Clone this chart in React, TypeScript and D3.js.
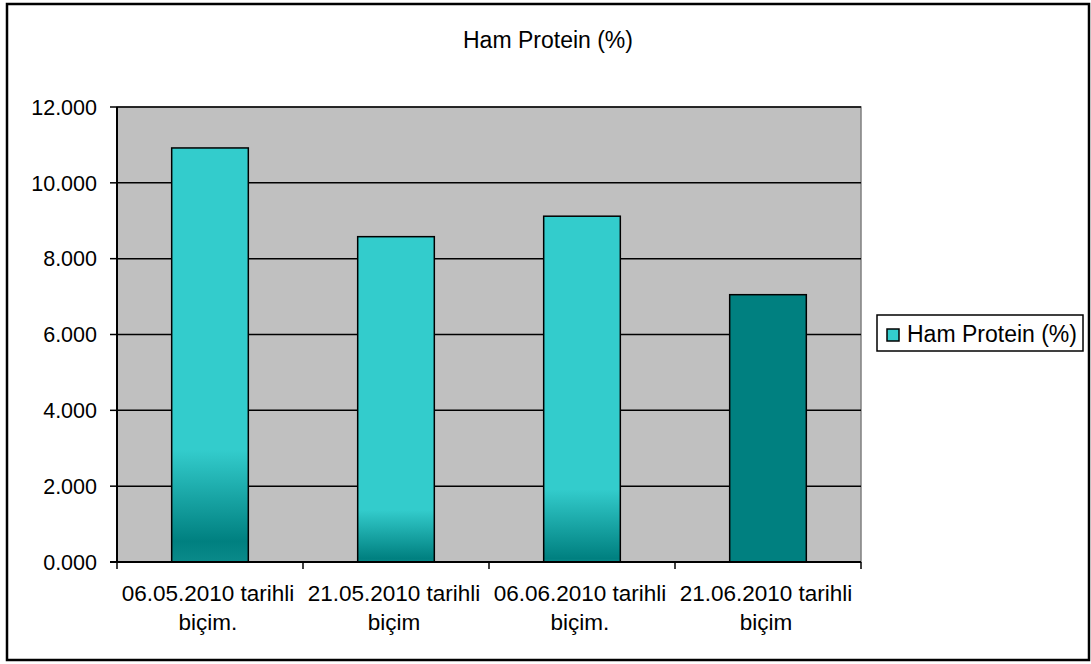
import React from "react";
import * as d3 from "d3";

const categories: string[][] = [
  ["06.05.2010 tarihli", "biçim."],
  ["21.05.2010 tarihli", "biçim"],
  ["06.06.2010 tarihli", "biçim."],
  ["21.06.2010 tarihli", "biçim"],
];
const values: number[] = [10.92, 8.58, 9.12, 7.05];
const yTicks: number[] = [0, 2, 4, 6, 8, 10, 12];
const seriesName = "Ham Protein (%)";
const titleText = "Ham Protein (%)";
// gradient start (fraction of bar height from top) per bar; null = solid
const gradStart: (number | null)[] = [0.73, 0.84, 0.79, null];
const gradDark: number[] = [0.95, 0.99, 0.99, 1];

const W = 1091;
const H = 664;
const plot = { left: 117, top: 107, right: 861, bottom: 562 };
const FONT = "'Liberation Sans', Arial, sans-serif";
const LIGHT = "#33CCCC";
const DARK = "#008080";

export default function App() {
  const x = d3
    .scaleBand<number>()
    .domain(d3.range(categories.length))
    .range([plot.left, plot.right])
    .paddingInner(0.588)
    .paddingOuter(0.294);
  const y = d3.scaleLinear().domain([0, 12]).range([plot.bottom, plot.top]);
  const step = (plot.right - plot.left) / categories.length;

  return (
    <svg
      width={W}
      height={H}
      style={{ position: "absolute", left: 0, top: 0, background: "#fff" }}
      fontFamily={FONT}
    >
      <defs>
        {values.map((v, i) => {
          const gs = gradStart[i];
          return (
            <linearGradient key={i} id={`g${i}`} x1="0" y1="0" x2="0" y2="1">
              {gs === null ? (
                <>
                  <stop offset="0" stopColor={DARK} />
                  <stop offset="1" stopColor={DARK} />
                </>
              ) : (
                <>
                  <stop offset="0" stopColor={LIGHT} />
                  <stop offset={gs} stopColor={LIGHT} />
                  <stop offset={gradDark[i]} stopColor={DARK} />
                  <stop offset="1" stopColor="#0a8a8a" />
                </>
              )}
            </linearGradient>
          );
        })}
      </defs>
      <rect x={7} y={4} width={1082} height={656} fill="#fff" stroke="#000" strokeWidth={2.5} />
      <text x={548} y={48} textAnchor="middle" fontSize={23} fill="#000">
        {titleText}
      </text>
      <rect
        x={plot.left}
        y={plot.top}
        width={plot.right - plot.left}
        height={plot.bottom - plot.top}
        fill="#C0C0C0"
        stroke="#808080"
        strokeWidth={1.5}
      />
      {yTicks.map((t) => (
        <g key={t}>
          <line x1={plot.left} x2={plot.right} y1={y(t)} y2={y(t)} stroke="#000" strokeWidth={1.5} />
          <line x1={plot.left - 7} x2={plot.left} y1={y(t)} y2={y(t)} stroke="#000" strokeWidth={1.5} />
          <text x={97} y={y(t)} dy="0.36em" textAnchor="end" fontSize={21.5} fill="#000">
            {d3.format(".3f")(t)}
          </text>
        </g>
      ))}
      {values.map((v, i) => (
        <rect
          key={i}
          x={x(i)}
          y={y(v)}
          width={x.bandwidth()}
          height={y(0) - y(v)}
          fill={`url(#g${i})`}
          stroke="#000"
          strokeWidth={1.5}
        />
      ))}
      <line x1={plot.left} x2={plot.left} y1={plot.top} y2={plot.bottom} stroke="#000" strokeWidth={2} />
      <line x1={plot.left - 7} x2={plot.right} y1={plot.bottom} y2={plot.bottom} stroke="#000" strokeWidth={2} />
      {d3.range(categories.length + 1).map((i) => (
        <line
          key={i}
          x1={plot.left + i * step}
          x2={plot.left + i * step}
          y1={plot.bottom}
          y2={plot.bottom + 7}
          stroke="#000"
          strokeWidth={1.5}
        />
      ))}
      {categories.map((lines, i) => (
        <text key={i} textAnchor="middle" fontSize={22.5} fill="#000">
          {lines.map((l, j) => (
            <tspan key={j} x={plot.left + (i + 0.5) * step - 2} y={601 + j * 29}>
              {l}
            </tspan>
          ))}
        </text>
      ))}
      <rect x={877} y={315} width={206} height={36} fill="#fff" stroke="#000" strokeWidth={1.5} />
      <rect x={887} y={329} width={12} height={12} fill={LIGHT} stroke="#000" strokeWidth={1.5} />
      <text x={907} y={342} fontSize={23} fill="#000">
        {seriesName}
      </text>
    </svg>
  );
}
